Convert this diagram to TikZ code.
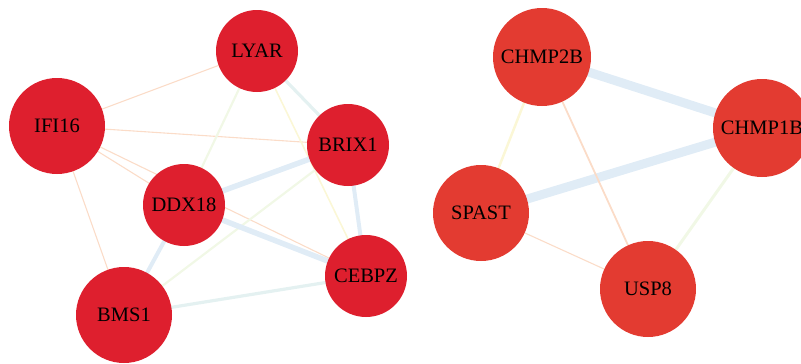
\documentclass[tikz,border=0pt]{standalone}
\usepackage{fontspec}
\setmainfont{Liberation Serif}
\pgfdeclarelayer{edges}
\pgfsetlayers{edges,main}
\begin{document}
\begin{tikzpicture}[x=1pt,y=-1pt,
  gene/.style={circle,inner sep=0pt,minimum size=#1*2pt,font=\fontsize{20.5}{21}\selectfont,text=black},
  gl/.style={gene=#1,fill=nodeL},
  gr/.style={gene=#1,fill=nodeR},
  eorange/.style={draw=orangeE,line width=1.1pt},
  eyellow/.style={draw=yellowE,line width=1.6pt},
  egreen/.style={draw=greenE,line width=2.2pt},
  ecyan/.style={draw=cyanE,line width=3.2pt},
  eblue/.style={draw=blueE,line width=5.5pt},
  ebluem/.style={draw=blueE,line width=4pt},
  ebig/.style={draw=blueE,line width=9pt}]
\definecolor{nodeL}{HTML}{DE1F2E}
\definecolor{nodeR}{HTML}{E33B31}
\definecolor{orangeE}{HTML}{FBDCC8}
\definecolor{yellowE}{HTML}{FBF7D6}
\definecolor{greenE}{HTML}{F1F8E6}
\definecolor{cyanE}{HTML}{E4F1F1}
\definecolor{blueE}{HTML}{E0ECF6}
\useasboundingbox (0,0) rectangle (801,364);
\clip (0,0) rectangle (801,364);
\node[gl=41] (LYAR) at (257,51) {LYAR};
\node[gl=48] (IFI) at (57,126) {IFI16};
\node[gl=41] (BRIX) at (348,145) {BRIX1};
\node[gl=41] (DDX) at (184,205) {DDX18};
\node[gl=41] (CEBPZ) at (366,276) {CEBPZ};
\node[gl=48] (BMS) at (124,315) {BMS1};
\node[gr=49] (C2B) at (542,57) {CHMP2B};
\node[gr=49] (C1B) at (762,128) {CHMP1B};
\node[gr=48] (SPAST) at (481,213) {SPAST};
\node[gr=48] (USP) at (648,289) {USP8};
\begin{pgfonlayer}{edges}
\draw[eorange] (LYAR.center) -- (IFI.center);
\draw[eorange] (IFI.center) -- (BRIX.center);
\draw[eorange] (IFI.center) -- (DDX.center);
\draw[eorange] (IFI.center) -- (CEBPZ.center);
\draw[eorange] (IFI.center) -- (BMS.center);
\draw[egreen] (LYAR.center) -- (DDX.center);
\draw[ecyan] (LYAR.center) -- (BRIX.center);
\draw[eyellow] (LYAR.center) -- (CEBPZ.center);
\draw[eblue] (BRIX.center) -- (DDX.center);
\draw[ebluem] (BRIX.center) -- (CEBPZ.center);
\draw[egreen] (BRIX.center) -- (BMS.center);
\draw[eblue] (DDX.center) -- (CEBPZ.center);
\draw[ebluem] (DDX.center) -- (BMS.center);
\draw[ecyan] (BMS.center) -- (CEBPZ.center);
\draw[ebig] (C2B.center) -- (C1B.center);
\draw[ebig] (SPAST.center) -- (C1B.center);
\draw[eyellow,line width=2.5pt] (C2B.center) -- (SPAST.center);
\draw[eorange,line width=1.8pt] (C2B.center) -- (USP.center);
\draw[eorange] (SPAST.center) -- (USP.center);
\draw[egreen,line width=3pt] (C1B.center) -- (USP.center);
\end{pgfonlayer}
\end{tikzpicture}
\end{document}
